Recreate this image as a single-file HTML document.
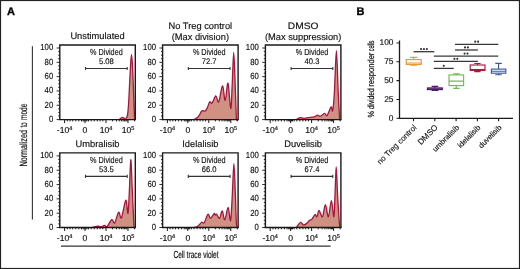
<!DOCTYPE html>
<html><head><meta charset="utf-8"><style>html,body{margin:0;padding:0;background:#fff;}body{width:520px;height:269px;overflow:hidden;position:relative;font-family:"Liberation Sans",sans-serif;}text:not([stroke]){stroke:#111;stroke-width:0.15px;}</style></head><body>
<svg width="520" height="269" viewBox="0 0 520 269" style="position:absolute;left:0;top:0;will-change:transform" text-rendering="geometricPrecision" font-family="&quot;Liberation Sans&quot;, sans-serif" fill="#111">
<rect x="0" y="0" width="520" height="269" fill="#fff"/>
<text x="6.9" y="15" font-size="11" font-weight="bold" fill="#000" stroke="#000" stroke-width="0.35">A</text>
<text x="356.6" y="15" font-size="11" font-weight="bold" fill="#000" stroke="#000" stroke-width="0.35">B</text>
<path d="M119.30,119.60 C119.83,119.22 121.48,117.40 122.50,117.30 C123.52,117.20 124.58,119.30 125.40,119.00 C126.22,118.70 126.88,117.83 127.40,115.50 C127.92,113.17 128.17,109.58 128.50,105.00 C128.83,100.42 129.07,94.50 129.40,88.00 C129.73,81.50 130.15,71.62 130.50,66.00 C130.85,60.38 131.17,54.30 131.50,54.30 C131.83,54.30 132.18,60.38 132.50,66.00 C132.82,71.62 133.15,81.50 133.40,88.00 C133.65,94.50 133.82,100.17 134.00,105.00 C134.18,109.83 134.37,114.57 134.50,117.00 C134.63,119.43 134.75,119.17 134.80,119.60 Z" fill="#cf9282" stroke="none"/>
<path d="M119.30,119.60 C119.83,119.22 121.48,117.40 122.50,117.30 C123.52,117.20 124.58,119.30 125.40,119.00 C126.22,118.70 126.88,117.83 127.40,115.50 C127.92,113.17 128.17,109.58 128.50,105.00 C128.83,100.42 129.07,94.50 129.40,88.00 C129.73,81.50 130.15,71.62 130.50,66.00 C130.85,60.38 131.17,54.30 131.50,54.30 C131.83,54.30 132.18,60.38 132.50,66.00 C132.82,71.62 133.15,81.50 133.40,88.00 C133.65,94.50 133.82,100.17 134.00,105.00 C134.18,109.83 134.37,114.57 134.50,117.00 C134.63,119.43 134.75,119.17 134.80,119.60" fill="none" stroke="#a8153d" stroke-width="1.3" stroke-linejoin="round"/>
<path d="M59.80,119.60 V45.00 H135.30 V119.60" fill="none" stroke="#1a1a1a" stroke-width="1.4"/>
<path d="M59.10,119.60 H136.00" fill="none" stroke="#1a1a1a" stroke-width="1.35"/>
<path d="M56.60,119.60 H59.80 M58.20,116.02 H59.80 M58.20,112.44 H59.80 M58.20,108.86 H59.80 M56.60,105.28 H59.80 M58.20,101.70 H59.80 M58.20,98.12 H59.80 M58.20,94.54 H59.80 M56.60,90.96 H59.80 M58.20,87.38 H59.80 M58.20,83.80 H59.80 M58.20,80.22 H59.80 M56.60,76.64 H59.80 M58.20,73.06 H59.80 M58.20,69.48 H59.80 M58.20,65.90 H59.80 M56.60,62.32 H59.80 M58.20,58.74 H59.80 M58.20,55.16 H59.80 M58.20,51.58 H59.80 M56.60,48.00 H59.80" stroke="#1a1a1a" stroke-width="0.9" fill="none"/>
<text transform="translate(53.20,122.00) scale(0.88,1)" text-anchor="end" font-size="8.8">0</text>
<text transform="translate(53.20,107.68) scale(0.88,1)" text-anchor="end" font-size="8.8">20</text>
<text transform="translate(53.20,93.36) scale(0.88,1)" text-anchor="end" font-size="8.8">40</text>
<text transform="translate(53.20,79.04) scale(0.88,1)" text-anchor="end" font-size="8.8">60</text>
<text transform="translate(53.20,64.72) scale(0.88,1)" text-anchor="end" font-size="8.8">80</text>
<text transform="translate(53.20,50.40) scale(0.88,1)" text-anchor="end" font-size="8.8">100</text>
<path d="M64.60,119.60 V123.10 M85.00,119.60 V123.10 M106.00,119.60 V123.10 M128.00,119.60 V123.10 M67.30,119.60 V121.40 M70.00,119.60 V121.40 M72.70,119.60 V121.40 M75.80,119.60 V121.40 M78.80,119.60 V121.40 M81.50,119.60 V121.40 M83.10,119.60 V121.40 M84.10,119.60 V121.40 M85.90,119.60 V121.40 M86.90,119.60 V121.40 M88.50,119.60 V121.40 M91.20,119.60 V121.40 M94.20,119.60 V121.40 M97.30,119.60 V121.40 M100.10,119.60 V121.40 M102.80,119.60 V121.40 M112.62,119.60 V121.40 M116.50,119.60 V121.40 M119.25,119.60 V121.40 M121.38,119.60 V121.40 M123.12,119.60 V121.40 M124.59,119.60 V121.40 M125.87,119.60 V121.40 M126.99,119.60 V121.40 M134.60,119.60 V121.40" stroke="#111" stroke-width="0.95" fill="none"/>
<text x="64.60" y="132.70" text-anchor="middle" font-size="8.6">-10<tspan font-size="5.6" dy="-2.6">4</tspan></text>
<text x="85.00" y="132.70" text-anchor="middle" font-size="8.6">0</text>
<text x="106.00" y="132.70" text-anchor="middle" font-size="8.6">10<tspan font-size="5.6" dy="-2.6">4</tspan></text>
<text x="128.00" y="132.70" text-anchor="middle" font-size="8.6">10<tspan font-size="5.6" dy="-2.6">5</tspan></text>
<text x="97.55" y="39.40" text-anchor="middle" font-size="9.3">Unstimulated</text>
<text x="106.40" y="54.90" text-anchor="middle" font-size="8.8" textLength="32.6" lengthAdjust="spacingAndGlyphs">% Divided</text>
<text transform="translate(106.40,63.70) scale(0.94,1)" text-anchor="middle" font-size="8.1">5.08</text>
<path d="M85.10,68.50 H127.60 M85.50,66.90 V70.10 M127.20,66.90 V70.10" stroke="#333" stroke-width="1.1" fill="none"/>
<path d="M194.20,119.60 C194.88,119.13 197.02,118.27 198.30,116.80 C199.58,115.33 200.80,111.73 201.90,110.80 C203.00,109.87 204.00,111.68 204.90,111.20 C205.80,110.72 206.52,109.45 207.30,107.90 C208.08,106.35 208.82,102.70 209.60,101.90 C210.38,101.10 210.97,104.08 212.00,103.10 C213.03,102.12 214.68,96.20 215.80,96.00 C216.92,95.80 217.58,103.57 218.70,101.90 C219.82,100.23 221.42,86.23 222.50,86.00 C223.58,85.77 224.28,100.98 225.20,100.50 C226.12,100.02 227.08,81.75 228.00,83.10 C228.92,84.45 230.00,108.28 230.70,108.60 C231.40,108.92 231.70,94.37 232.20,85.00 C232.70,75.63 233.20,52.40 233.70,52.40 C234.20,52.40 234.77,74.28 235.20,85.00 C235.63,95.72 236.00,110.93 236.30,116.70 C236.60,122.47 236.88,119.12 237.00,119.60 Z" fill="#cf9282" stroke="none"/>
<path d="M194.20,119.60 C194.88,119.13 197.02,118.27 198.30,116.80 C199.58,115.33 200.80,111.73 201.90,110.80 C203.00,109.87 204.00,111.68 204.90,111.20 C205.80,110.72 206.52,109.45 207.30,107.90 C208.08,106.35 208.82,102.70 209.60,101.90 C210.38,101.10 210.97,104.08 212.00,103.10 C213.03,102.12 214.68,96.20 215.80,96.00 C216.92,95.80 217.58,103.57 218.70,101.90 C219.82,100.23 221.42,86.23 222.50,86.00 C223.58,85.77 224.28,100.98 225.20,100.50 C226.12,100.02 227.08,81.75 228.00,83.10 C228.92,84.45 230.00,108.28 230.70,108.60 C231.40,108.92 231.70,94.37 232.20,85.00 C232.70,75.63 233.20,52.40 233.70,52.40 C234.20,52.40 234.77,74.28 235.20,85.00 C235.63,95.72 236.00,110.93 236.30,116.70 C236.60,122.47 236.88,119.12 237.00,119.60" fill="none" stroke="#a8153d" stroke-width="1.3" stroke-linejoin="round"/>
<path d="M162.60,119.60 V45.00 H238.10 V119.60" fill="none" stroke="#1a1a1a" stroke-width="1.4"/>
<path d="M161.90,119.60 H238.80" fill="none" stroke="#1a1a1a" stroke-width="1.35"/>
<path d="M159.40,119.60 H162.60 M161.00,116.02 H162.60 M161.00,112.44 H162.60 M161.00,108.86 H162.60 M159.40,105.28 H162.60 M161.00,101.70 H162.60 M161.00,98.12 H162.60 M161.00,94.54 H162.60 M159.40,90.96 H162.60 M161.00,87.38 H162.60 M161.00,83.80 H162.60 M161.00,80.22 H162.60 M159.40,76.64 H162.60 M161.00,73.06 H162.60 M161.00,69.48 H162.60 M161.00,65.90 H162.60 M159.40,62.32 H162.60 M161.00,58.74 H162.60 M161.00,55.16 H162.60 M161.00,51.58 H162.60 M159.40,48.00 H162.60" stroke="#1a1a1a" stroke-width="0.9" fill="none"/>
<text transform="translate(156.00,122.00) scale(0.88,1)" text-anchor="end" font-size="8.8">0</text>
<text transform="translate(156.00,107.68) scale(0.88,1)" text-anchor="end" font-size="8.8">20</text>
<text transform="translate(156.00,93.36) scale(0.88,1)" text-anchor="end" font-size="8.8">40</text>
<text transform="translate(156.00,79.04) scale(0.88,1)" text-anchor="end" font-size="8.8">60</text>
<text transform="translate(156.00,64.72) scale(0.88,1)" text-anchor="end" font-size="8.8">80</text>
<text transform="translate(156.00,50.40) scale(0.88,1)" text-anchor="end" font-size="8.8">100</text>
<path d="M167.40,119.60 V123.10 M187.80,119.60 V123.10 M208.80,119.60 V123.10 M230.80,119.60 V123.10 M170.10,119.60 V121.40 M172.80,119.60 V121.40 M175.50,119.60 V121.40 M178.60,119.60 V121.40 M181.60,119.60 V121.40 M184.30,119.60 V121.40 M185.90,119.60 V121.40 M186.90,119.60 V121.40 M188.70,119.60 V121.40 M189.70,119.60 V121.40 M191.30,119.60 V121.40 M194.00,119.60 V121.40 M197.00,119.60 V121.40 M200.10,119.60 V121.40 M202.90,119.60 V121.40 M205.60,119.60 V121.40 M215.42,119.60 V121.40 M219.30,119.60 V121.40 M222.05,119.60 V121.40 M224.18,119.60 V121.40 M225.92,119.60 V121.40 M227.39,119.60 V121.40 M228.67,119.60 V121.40 M229.79,119.60 V121.40 M237.40,119.60 V121.40" stroke="#111" stroke-width="0.95" fill="none"/>
<text x="167.40" y="132.70" text-anchor="middle" font-size="8.6">-10<tspan font-size="5.6" dy="-2.6">4</tspan></text>
<text x="187.80" y="132.70" text-anchor="middle" font-size="8.6">0</text>
<text x="208.80" y="132.70" text-anchor="middle" font-size="8.6">10<tspan font-size="5.6" dy="-2.6">4</tspan></text>
<text x="230.80" y="132.70" text-anchor="middle" font-size="8.6">10<tspan font-size="5.6" dy="-2.6">5</tspan></text>
<text x="200.35" y="29.10" text-anchor="middle" font-size="9.3">No Treg control</text>
<text x="200.35" y="40.30" text-anchor="middle" font-size="9.3">(Max division)</text>
<text x="209.20" y="54.90" text-anchor="middle" font-size="8.8" textLength="32.6" lengthAdjust="spacingAndGlyphs">% Divided</text>
<text transform="translate(209.20,63.70) scale(0.94,1)" text-anchor="middle" font-size="8.1">72.7</text>
<path d="M187.90,68.50 H230.40 M188.30,66.90 V70.10 M230.00,66.90 V70.10" stroke="#333" stroke-width="1.1" fill="none"/>
<path d="M296.50,119.60 C297.08,119.27 298.75,117.82 300.00,117.60 C301.25,117.38 302.32,118.35 304.00,118.30 C305.68,118.25 308.42,117.53 310.10,117.30 C311.78,117.07 312.85,117.27 314.10,116.90 C315.35,116.53 316.60,115.20 317.60,115.10 C318.60,115.00 318.93,116.58 320.10,116.30 C321.27,116.02 323.43,113.52 324.60,113.40 C325.77,113.28 326.03,116.67 327.10,115.60 C328.17,114.53 330.07,107.83 331.00,107.00 C331.93,106.17 332.13,113.10 332.70,110.60 C333.27,108.10 333.78,101.98 334.40,92.00 C335.02,82.02 335.77,50.70 336.40,50.70 C337.03,50.70 337.68,80.95 338.20,92.00 C338.72,103.05 339.20,112.40 339.50,117.00 C339.80,121.60 339.92,119.17 340.00,119.60 Z" fill="#cf9282" stroke="none"/>
<path d="M296.50,119.60 C297.08,119.27 298.75,117.82 300.00,117.60 C301.25,117.38 302.32,118.35 304.00,118.30 C305.68,118.25 308.42,117.53 310.10,117.30 C311.78,117.07 312.85,117.27 314.10,116.90 C315.35,116.53 316.60,115.20 317.60,115.10 C318.60,115.00 318.93,116.58 320.10,116.30 C321.27,116.02 323.43,113.52 324.60,113.40 C325.77,113.28 326.03,116.67 327.10,115.60 C328.17,114.53 330.07,107.83 331.00,107.00 C331.93,106.17 332.13,113.10 332.70,110.60 C333.27,108.10 333.78,101.98 334.40,92.00 C335.02,82.02 335.77,50.70 336.40,50.70 C337.03,50.70 337.68,80.95 338.20,92.00 C338.72,103.05 339.20,112.40 339.50,117.00 C339.80,121.60 339.92,119.17 340.00,119.60" fill="none" stroke="#a8153d" stroke-width="1.3" stroke-linejoin="round"/>
<path d="M265.40,119.60 V45.00 H340.90 V119.60" fill="none" stroke="#1a1a1a" stroke-width="1.4"/>
<path d="M264.70,119.60 H341.60" fill="none" stroke="#1a1a1a" stroke-width="1.35"/>
<path d="M262.20,119.60 H265.40 M263.80,116.02 H265.40 M263.80,112.44 H265.40 M263.80,108.86 H265.40 M262.20,105.28 H265.40 M263.80,101.70 H265.40 M263.80,98.12 H265.40 M263.80,94.54 H265.40 M262.20,90.96 H265.40 M263.80,87.38 H265.40 M263.80,83.80 H265.40 M263.80,80.22 H265.40 M262.20,76.64 H265.40 M263.80,73.06 H265.40 M263.80,69.48 H265.40 M263.80,65.90 H265.40 M262.20,62.32 H265.40 M263.80,58.74 H265.40 M263.80,55.16 H265.40 M263.80,51.58 H265.40 M262.20,48.00 H265.40" stroke="#1a1a1a" stroke-width="0.9" fill="none"/>
<text transform="translate(258.80,122.00) scale(0.88,1)" text-anchor="end" font-size="8.8">0</text>
<text transform="translate(258.80,107.68) scale(0.88,1)" text-anchor="end" font-size="8.8">20</text>
<text transform="translate(258.80,93.36) scale(0.88,1)" text-anchor="end" font-size="8.8">40</text>
<text transform="translate(258.80,79.04) scale(0.88,1)" text-anchor="end" font-size="8.8">60</text>
<text transform="translate(258.80,64.72) scale(0.88,1)" text-anchor="end" font-size="8.8">80</text>
<text transform="translate(258.80,50.40) scale(0.88,1)" text-anchor="end" font-size="8.8">100</text>
<path d="M270.20,119.60 V123.10 M290.60,119.60 V123.10 M311.60,119.60 V123.10 M333.60,119.60 V123.10 M272.90,119.60 V121.40 M275.60,119.60 V121.40 M278.30,119.60 V121.40 M281.40,119.60 V121.40 M284.40,119.60 V121.40 M287.10,119.60 V121.40 M288.70,119.60 V121.40 M289.70,119.60 V121.40 M291.50,119.60 V121.40 M292.50,119.60 V121.40 M294.10,119.60 V121.40 M296.80,119.60 V121.40 M299.80,119.60 V121.40 M302.90,119.60 V121.40 M305.70,119.60 V121.40 M308.40,119.60 V121.40 M318.22,119.60 V121.40 M322.10,119.60 V121.40 M324.85,119.60 V121.40 M326.98,119.60 V121.40 M328.72,119.60 V121.40 M330.19,119.60 V121.40 M331.47,119.60 V121.40 M332.59,119.60 V121.40 M340.20,119.60 V121.40" stroke="#111" stroke-width="0.95" fill="none"/>
<text x="270.20" y="132.70" text-anchor="middle" font-size="8.6">-10<tspan font-size="5.6" dy="-2.6">4</tspan></text>
<text x="290.60" y="132.70" text-anchor="middle" font-size="8.6">0</text>
<text x="311.60" y="132.70" text-anchor="middle" font-size="8.6">10<tspan font-size="5.6" dy="-2.6">4</tspan></text>
<text x="333.60" y="132.70" text-anchor="middle" font-size="8.6">10<tspan font-size="5.6" dy="-2.6">5</tspan></text>
<text x="303.15" y="29.10" text-anchor="middle" font-size="9.3" textLength="30.6" lengthAdjust="spacingAndGlyphs">DMSO</text>
<text x="303.15" y="40.30" text-anchor="middle" font-size="9.3">(Max suppression)</text>
<text x="312.00" y="54.90" text-anchor="middle" font-size="8.8" textLength="32.6" lengthAdjust="spacingAndGlyphs">% Divided</text>
<text transform="translate(312.00,63.70) scale(0.94,1)" text-anchor="middle" font-size="8.1">40.3</text>
<path d="M290.70,68.50 H333.20 M291.10,66.90 V70.10 M332.80,66.90 V70.10" stroke="#333" stroke-width="1.1" fill="none"/>
<path d="M92.20,227.50 C93.17,227.29 96.48,226.35 98.00,226.25 C99.52,226.15 100.22,227.06 101.30,226.90 C102.38,226.74 103.53,225.35 104.50,225.30 C105.47,225.25 105.90,227.53 107.10,226.60 C108.30,225.67 110.43,220.30 111.70,219.70 C112.97,219.10 113.55,224.23 114.70,223.00 C115.85,221.77 117.47,213.17 118.60,212.30 C119.73,211.43 120.31,219.82 121.50,217.80 C122.69,215.78 124.67,200.97 125.75,200.20 C126.83,199.43 127.39,214.90 128.00,213.20 C128.61,211.50 128.93,198.92 129.40,190.00 C129.87,181.08 130.33,160.03 130.80,159.70 C131.27,159.37 131.78,179.28 132.20,188.00 C132.62,196.72 133.00,205.42 133.30,212.00 C133.60,218.58 133.88,224.92 134.00,227.50 Z" fill="#cf9282" stroke="none"/>
<path d="M92.20,227.50 C93.17,227.29 96.48,226.35 98.00,226.25 C99.52,226.15 100.22,227.06 101.30,226.90 C102.38,226.74 103.53,225.35 104.50,225.30 C105.47,225.25 105.90,227.53 107.10,226.60 C108.30,225.67 110.43,220.30 111.70,219.70 C112.97,219.10 113.55,224.23 114.70,223.00 C115.85,221.77 117.47,213.17 118.60,212.30 C119.73,211.43 120.31,219.82 121.50,217.80 C122.69,215.78 124.67,200.97 125.75,200.20 C126.83,199.43 127.39,214.90 128.00,213.20 C128.61,211.50 128.93,198.92 129.40,190.00 C129.87,181.08 130.33,160.03 130.80,159.70 C131.27,159.37 131.78,179.28 132.20,188.00 C132.62,196.72 133.00,205.42 133.30,212.00 C133.60,218.58 133.88,224.92 134.00,227.50" fill="none" stroke="#a8153d" stroke-width="1.3" stroke-linejoin="round"/>
<path d="M59.80,227.50 V152.90 H135.30 V227.50" fill="none" stroke="#1a1a1a" stroke-width="1.4"/>
<path d="M59.10,227.50 H136.00" fill="none" stroke="#1a1a1a" stroke-width="1.35"/>
<path d="M56.60,227.50 H59.80 M58.20,223.92 H59.80 M58.20,220.34 H59.80 M58.20,216.76 H59.80 M56.60,213.18 H59.80 M58.20,209.60 H59.80 M58.20,206.02 H59.80 M58.20,202.44 H59.80 M56.60,198.86 H59.80 M58.20,195.28 H59.80 M58.20,191.70 H59.80 M58.20,188.12 H59.80 M56.60,184.54 H59.80 M58.20,180.96 H59.80 M58.20,177.38 H59.80 M58.20,173.80 H59.80 M56.60,170.22 H59.80 M58.20,166.64 H59.80 M58.20,163.06 H59.80 M58.20,159.48 H59.80 M56.60,155.90 H59.80" stroke="#1a1a1a" stroke-width="0.9" fill="none"/>
<text transform="translate(53.20,229.90) scale(0.88,1)" text-anchor="end" font-size="8.8">0</text>
<text transform="translate(53.20,215.58) scale(0.88,1)" text-anchor="end" font-size="8.8">20</text>
<text transform="translate(53.20,201.26) scale(0.88,1)" text-anchor="end" font-size="8.8">40</text>
<text transform="translate(53.20,186.94) scale(0.88,1)" text-anchor="end" font-size="8.8">60</text>
<text transform="translate(53.20,172.62) scale(0.88,1)" text-anchor="end" font-size="8.8">80</text>
<text transform="translate(53.20,158.30) scale(0.88,1)" text-anchor="end" font-size="8.8">100</text>
<path d="M64.60,227.50 V231.00 M85.00,227.50 V231.00 M106.00,227.50 V231.00 M128.00,227.50 V231.00 M67.30,227.50 V229.30 M70.00,227.50 V229.30 M72.70,227.50 V229.30 M75.80,227.50 V229.30 M78.80,227.50 V229.30 M81.50,227.50 V229.30 M83.10,227.50 V229.30 M84.10,227.50 V229.30 M85.90,227.50 V229.30 M86.90,227.50 V229.30 M88.50,227.50 V229.30 M91.20,227.50 V229.30 M94.20,227.50 V229.30 M97.30,227.50 V229.30 M100.10,227.50 V229.30 M102.80,227.50 V229.30 M112.62,227.50 V229.30 M116.50,227.50 V229.30 M119.25,227.50 V229.30 M121.38,227.50 V229.30 M123.12,227.50 V229.30 M124.59,227.50 V229.30 M125.87,227.50 V229.30 M126.99,227.50 V229.30 M134.60,227.50 V229.30" stroke="#111" stroke-width="0.95" fill="none"/>
<text x="64.60" y="240.60" text-anchor="middle" font-size="8.6">-10<tspan font-size="5.6" dy="-2.6">4</tspan></text>
<text x="85.00" y="240.60" text-anchor="middle" font-size="8.6">0</text>
<text x="106.00" y="240.60" text-anchor="middle" font-size="8.6">10<tspan font-size="5.6" dy="-2.6">4</tspan></text>
<text x="128.00" y="240.60" text-anchor="middle" font-size="8.6">10<tspan font-size="5.6" dy="-2.6">5</tspan></text>
<text x="97.55" y="147.30" text-anchor="middle" font-size="9.3">Umbralisib</text>
<text x="106.40" y="162.80" text-anchor="middle" font-size="8.8" textLength="32.6" lengthAdjust="spacingAndGlyphs">% Divided</text>
<text transform="translate(106.40,171.60) scale(0.94,1)" text-anchor="middle" font-size="8.1">53.5</text>
<path d="M85.10,176.40 H127.60 M85.50,174.80 V178.00 M127.20,174.80 V178.00" stroke="#333" stroke-width="1.1" fill="none"/>
<path d="M193.90,227.50 C194.55,227.28 196.50,227.07 197.80,226.20 C199.10,225.33 200.62,222.90 201.70,222.30 C202.78,221.70 203.27,223.95 204.30,222.60 C205.33,221.25 206.87,214.90 207.90,214.20 C208.93,213.50 209.47,218.50 210.50,218.40 C211.53,218.30 213.28,214.13 214.10,213.60 C214.92,213.07 214.97,215.10 215.40,215.20 C215.83,215.30 216.00,213.67 216.70,214.20 C217.40,214.73 218.68,218.93 219.60,218.40 C220.52,217.87 221.33,210.77 222.20,211.00 C223.07,211.23 223.82,220.40 224.80,219.80 C225.78,219.20 227.13,207.27 228.10,207.40 C229.07,207.53 229.90,222.67 230.60,220.60 C231.30,218.53 231.75,204.48 232.30,195.00 C232.85,185.52 233.38,163.70 233.90,163.70 C234.42,163.70 235.00,185.28 235.40,195.00 C235.80,204.72 236.03,216.58 236.30,222.00 C236.57,227.42 236.88,226.58 237.00,227.50 Z" fill="#cf9282" stroke="none"/>
<path d="M193.90,227.50 C194.55,227.28 196.50,227.07 197.80,226.20 C199.10,225.33 200.62,222.90 201.70,222.30 C202.78,221.70 203.27,223.95 204.30,222.60 C205.33,221.25 206.87,214.90 207.90,214.20 C208.93,213.50 209.47,218.50 210.50,218.40 C211.53,218.30 213.28,214.13 214.10,213.60 C214.92,213.07 214.97,215.10 215.40,215.20 C215.83,215.30 216.00,213.67 216.70,214.20 C217.40,214.73 218.68,218.93 219.60,218.40 C220.52,217.87 221.33,210.77 222.20,211.00 C223.07,211.23 223.82,220.40 224.80,219.80 C225.78,219.20 227.13,207.27 228.10,207.40 C229.07,207.53 229.90,222.67 230.60,220.60 C231.30,218.53 231.75,204.48 232.30,195.00 C232.85,185.52 233.38,163.70 233.90,163.70 C234.42,163.70 235.00,185.28 235.40,195.00 C235.80,204.72 236.03,216.58 236.30,222.00 C236.57,227.42 236.88,226.58 237.00,227.50" fill="none" stroke="#a8153d" stroke-width="1.3" stroke-linejoin="round"/>
<path d="M162.60,227.50 V152.90 H238.10 V227.50" fill="none" stroke="#1a1a1a" stroke-width="1.4"/>
<path d="M161.90,227.50 H238.80" fill="none" stroke="#1a1a1a" stroke-width="1.35"/>
<path d="M159.40,227.50 H162.60 M161.00,223.92 H162.60 M161.00,220.34 H162.60 M161.00,216.76 H162.60 M159.40,213.18 H162.60 M161.00,209.60 H162.60 M161.00,206.02 H162.60 M161.00,202.44 H162.60 M159.40,198.86 H162.60 M161.00,195.28 H162.60 M161.00,191.70 H162.60 M161.00,188.12 H162.60 M159.40,184.54 H162.60 M161.00,180.96 H162.60 M161.00,177.38 H162.60 M161.00,173.80 H162.60 M159.40,170.22 H162.60 M161.00,166.64 H162.60 M161.00,163.06 H162.60 M161.00,159.48 H162.60 M159.40,155.90 H162.60" stroke="#1a1a1a" stroke-width="0.9" fill="none"/>
<text transform="translate(156.00,229.90) scale(0.88,1)" text-anchor="end" font-size="8.8">0</text>
<text transform="translate(156.00,215.58) scale(0.88,1)" text-anchor="end" font-size="8.8">20</text>
<text transform="translate(156.00,201.26) scale(0.88,1)" text-anchor="end" font-size="8.8">40</text>
<text transform="translate(156.00,186.94) scale(0.88,1)" text-anchor="end" font-size="8.8">60</text>
<text transform="translate(156.00,172.62) scale(0.88,1)" text-anchor="end" font-size="8.8">80</text>
<text transform="translate(156.00,158.30) scale(0.88,1)" text-anchor="end" font-size="8.8">100</text>
<path d="M167.40,227.50 V231.00 M187.80,227.50 V231.00 M208.80,227.50 V231.00 M230.80,227.50 V231.00 M170.10,227.50 V229.30 M172.80,227.50 V229.30 M175.50,227.50 V229.30 M178.60,227.50 V229.30 M181.60,227.50 V229.30 M184.30,227.50 V229.30 M185.90,227.50 V229.30 M186.90,227.50 V229.30 M188.70,227.50 V229.30 M189.70,227.50 V229.30 M191.30,227.50 V229.30 M194.00,227.50 V229.30 M197.00,227.50 V229.30 M200.10,227.50 V229.30 M202.90,227.50 V229.30 M205.60,227.50 V229.30 M215.42,227.50 V229.30 M219.30,227.50 V229.30 M222.05,227.50 V229.30 M224.18,227.50 V229.30 M225.92,227.50 V229.30 M227.39,227.50 V229.30 M228.67,227.50 V229.30 M229.79,227.50 V229.30 M237.40,227.50 V229.30" stroke="#111" stroke-width="0.95" fill="none"/>
<text x="167.40" y="240.60" text-anchor="middle" font-size="8.6">-10<tspan font-size="5.6" dy="-2.6">4</tspan></text>
<text x="187.80" y="240.60" text-anchor="middle" font-size="8.6">0</text>
<text x="208.80" y="240.60" text-anchor="middle" font-size="8.6">10<tspan font-size="5.6" dy="-2.6">4</tspan></text>
<text x="230.80" y="240.60" text-anchor="middle" font-size="8.6">10<tspan font-size="5.6" dy="-2.6">5</tspan></text>
<text x="200.35" y="147.30" text-anchor="middle" font-size="9.3">Idelalisib</text>
<text x="209.20" y="162.80" text-anchor="middle" font-size="8.8" textLength="32.6" lengthAdjust="spacingAndGlyphs">% Divided</text>
<text transform="translate(209.20,171.60) scale(0.94,1)" text-anchor="middle" font-size="8.1">66.0</text>
<path d="M187.90,176.40 H230.40 M188.30,174.80 V178.00 M230.00,174.80 V178.00" stroke="#333" stroke-width="1.1" fill="none"/>
<path d="M296.20,227.50 C296.93,226.65 299.45,222.83 300.60,222.40 C301.75,221.97 302.18,224.65 303.10,224.90 C304.02,225.15 305.03,224.63 306.10,223.90 C307.17,223.17 308.50,221.32 309.50,220.50 C310.50,219.68 311.18,220.00 312.10,219.00 C313.02,218.00 314.18,214.88 315.00,214.50 C315.82,214.12 316.33,217.37 317.00,216.70 C317.67,216.03 318.08,210.50 319.00,210.50 C319.92,210.50 321.43,217.68 322.50,216.70 C323.57,215.72 324.42,204.60 325.40,204.60 C326.38,204.60 327.40,217.35 328.40,216.70 C329.40,216.05 330.48,200.70 331.40,200.70 C332.32,200.70 333.30,217.65 333.90,216.70 C334.50,215.75 334.62,203.28 335.00,195.00 C335.38,186.72 335.77,167.00 336.20,167.00 C336.63,167.00 337.10,185.97 337.60,195.00 C338.10,204.03 338.80,215.78 339.20,221.20 C339.60,226.62 339.87,226.45 340.00,227.50 Z" fill="#cf9282" stroke="none"/>
<path d="M296.20,227.50 C296.93,226.65 299.45,222.83 300.60,222.40 C301.75,221.97 302.18,224.65 303.10,224.90 C304.02,225.15 305.03,224.63 306.10,223.90 C307.17,223.17 308.50,221.32 309.50,220.50 C310.50,219.68 311.18,220.00 312.10,219.00 C313.02,218.00 314.18,214.88 315.00,214.50 C315.82,214.12 316.33,217.37 317.00,216.70 C317.67,216.03 318.08,210.50 319.00,210.50 C319.92,210.50 321.43,217.68 322.50,216.70 C323.57,215.72 324.42,204.60 325.40,204.60 C326.38,204.60 327.40,217.35 328.40,216.70 C329.40,216.05 330.48,200.70 331.40,200.70 C332.32,200.70 333.30,217.65 333.90,216.70 C334.50,215.75 334.62,203.28 335.00,195.00 C335.38,186.72 335.77,167.00 336.20,167.00 C336.63,167.00 337.10,185.97 337.60,195.00 C338.10,204.03 338.80,215.78 339.20,221.20 C339.60,226.62 339.87,226.45 340.00,227.50" fill="none" stroke="#a8153d" stroke-width="1.3" stroke-linejoin="round"/>
<path d="M265.40,227.50 V152.90 H340.90 V227.50" fill="none" stroke="#1a1a1a" stroke-width="1.4"/>
<path d="M264.70,227.50 H341.60" fill="none" stroke="#1a1a1a" stroke-width="1.35"/>
<path d="M262.20,227.50 H265.40 M263.80,223.92 H265.40 M263.80,220.34 H265.40 M263.80,216.76 H265.40 M262.20,213.18 H265.40 M263.80,209.60 H265.40 M263.80,206.02 H265.40 M263.80,202.44 H265.40 M262.20,198.86 H265.40 M263.80,195.28 H265.40 M263.80,191.70 H265.40 M263.80,188.12 H265.40 M262.20,184.54 H265.40 M263.80,180.96 H265.40 M263.80,177.38 H265.40 M263.80,173.80 H265.40 M262.20,170.22 H265.40 M263.80,166.64 H265.40 M263.80,163.06 H265.40 M263.80,159.48 H265.40 M262.20,155.90 H265.40" stroke="#1a1a1a" stroke-width="0.9" fill="none"/>
<text transform="translate(258.80,229.90) scale(0.88,1)" text-anchor="end" font-size="8.8">0</text>
<text transform="translate(258.80,215.58) scale(0.88,1)" text-anchor="end" font-size="8.8">20</text>
<text transform="translate(258.80,201.26) scale(0.88,1)" text-anchor="end" font-size="8.8">40</text>
<text transform="translate(258.80,186.94) scale(0.88,1)" text-anchor="end" font-size="8.8">60</text>
<text transform="translate(258.80,172.62) scale(0.88,1)" text-anchor="end" font-size="8.8">80</text>
<text transform="translate(258.80,158.30) scale(0.88,1)" text-anchor="end" font-size="8.8">100</text>
<path d="M270.20,227.50 V231.00 M290.60,227.50 V231.00 M311.60,227.50 V231.00 M333.60,227.50 V231.00 M272.90,227.50 V229.30 M275.60,227.50 V229.30 M278.30,227.50 V229.30 M281.40,227.50 V229.30 M284.40,227.50 V229.30 M287.10,227.50 V229.30 M288.70,227.50 V229.30 M289.70,227.50 V229.30 M291.50,227.50 V229.30 M292.50,227.50 V229.30 M294.10,227.50 V229.30 M296.80,227.50 V229.30 M299.80,227.50 V229.30 M302.90,227.50 V229.30 M305.70,227.50 V229.30 M308.40,227.50 V229.30 M318.22,227.50 V229.30 M322.10,227.50 V229.30 M324.85,227.50 V229.30 M326.98,227.50 V229.30 M328.72,227.50 V229.30 M330.19,227.50 V229.30 M331.47,227.50 V229.30 M332.59,227.50 V229.30 M340.20,227.50 V229.30" stroke="#111" stroke-width="0.95" fill="none"/>
<text x="270.20" y="240.60" text-anchor="middle" font-size="8.6">-10<tspan font-size="5.6" dy="-2.6">4</tspan></text>
<text x="290.60" y="240.60" text-anchor="middle" font-size="8.6">0</text>
<text x="311.60" y="240.60" text-anchor="middle" font-size="8.6">10<tspan font-size="5.6" dy="-2.6">4</tspan></text>
<text x="333.60" y="240.60" text-anchor="middle" font-size="8.6">10<tspan font-size="5.6" dy="-2.6">5</tspan></text>
<text x="303.15" y="147.30" text-anchor="middle" font-size="9.3">Duvelisib</text>
<text x="312.00" y="162.80" text-anchor="middle" font-size="8.8" textLength="32.6" lengthAdjust="spacingAndGlyphs">% Divided</text>
<text transform="translate(312.00,171.60) scale(0.94,1)" text-anchor="middle" font-size="8.1">67.4</text>
<path d="M290.70,176.40 H333.20 M291.10,174.80 V178.00 M332.80,174.80 V178.00" stroke="#333" stroke-width="1.1" fill="none"/>
<path d="M32.4,46.2 V219.4" stroke="#333" stroke-width="1.1"/>
<text transform="translate(27.2,166.60) rotate(-90)" font-size="10.4" stroke="#1a1a1a" stroke-width="0.2" textLength="36.60" lengthAdjust="spacingAndGlyphs">Normalized</text>
<text transform="translate(27.2,127.30) rotate(-90)" font-size="10.4" stroke="#1a1a1a" stroke-width="0.2" textLength="5.00" lengthAdjust="spacingAndGlyphs">to</text>
<text transform="translate(27.2,120.00) rotate(-90)" font-size="10.4" stroke="#1a1a1a" stroke-width="0.2" textLength="16.40" lengthAdjust="spacingAndGlyphs">mode</text>
<path d="M61,246.2 H330.6" stroke="#333" stroke-width="1.2"/>
<text x="196" y="257.5" text-anchor="middle" font-size="10.2" stroke="#1a1a1a" stroke-width="0.2" textLength="45.2" lengthAdjust="spacingAndGlyphs">Cell trace violet</text>
<path d="M399.50,40.5 V118.30 H513.00" fill="none" stroke="#1a1a1a" stroke-width="1.3"/>
<path d="M396.50,118.30 H399.50 M396.50,99.47 H399.50 M396.50,80.65 H399.50 M396.50,61.82 H399.50 M396.50,43.00 H399.50 M413.50,118.30 V121.20 M434.80,118.30 V121.20 M456.10,118.30 V121.20 M477.40,118.30 V121.20 M498.60,118.30 V121.20" stroke="#1a1a1a" stroke-width="1.1" fill="none"/>
<text x="393.50" y="120.60" text-anchor="end" font-size="8.4">0</text>
<text x="393.50" y="101.77" text-anchor="end" font-size="8.4">25</text>
<text x="393.50" y="82.95" text-anchor="end" font-size="8.4">50</text>
<text x="393.50" y="64.12" text-anchor="end" font-size="8.4">75</text>
<text x="393.50" y="45.30" text-anchor="end" font-size="8.4">100</text>
<text transform="translate(373.5,117.50) rotate(-90)" font-size="8.9" stroke="#111" stroke-width="0.2" textLength="6.60" lengthAdjust="spacingAndGlyphs">%</text>
<text transform="translate(373.5,109.00) rotate(-90)" font-size="8.9" stroke="#111" stroke-width="0.2" textLength="20.60" lengthAdjust="spacingAndGlyphs">divided</text>
<text transform="translate(373.5,86.80) rotate(-90)" font-size="8.9" stroke="#111" stroke-width="0.2" textLength="34.20" lengthAdjust="spacingAndGlyphs">responder</text>
<text transform="translate(373.5,51.20) rotate(-90)" font-size="8.9" stroke="#111" stroke-width="0.2" textLength="10.60" lengthAdjust="spacingAndGlyphs">cells</text>
<text transform="translate(417.00,128.00) rotate(-45)" text-anchor="end" font-size="7.8">no Treg control</text>
<text transform="translate(438.30,128.00) rotate(-45)" text-anchor="end" font-size="8.2">DMSO</text>
<text transform="translate(459.60,128.00) rotate(-45)" text-anchor="end" font-size="7.5">umbralisib</text>
<text transform="translate(480.90,128.00) rotate(-45)" text-anchor="end" font-size="7.5">idelalisib</text>
<text transform="translate(502.10,128.00) rotate(-45)" text-anchor="end" font-size="7.5">duvelisib</text>
<g stroke="#e59b2e" stroke-width="1.15" fill="none">
<rect x="406.20" y="59.60" width="15.00" height="4.80" fill="#fff"/>
<path d="M406.20,63.00 H421.20 M413.70,57.40 V59.60 M413.70,64.40 V65.20 M410.20,57.40 H417.00 M410.20,65.20 H417.00"/>
</g>
<g stroke="#4d1a66" stroke-width="1.15" fill="none">
<rect x="427.40" y="87.90" width="14.90" height="1.70" fill="#fff"/>
<path d="M427.40,88.75 H442.30 M434.85,86.40 V87.90 M434.85,89.60 V90.40 M431.60,86.40 H438.30 M431.60,90.40 H438.30"/>
</g>
<g stroke="#72bd4c" stroke-width="1.15" fill="none">
<rect x="449.00" y="74.90" width="14.60" height="10.70" fill="#fff"/>
<path d="M449.00,81.10 H463.60 M456.30,73.80 V74.90 M456.30,85.60 V88.30 M453.20,73.80 H459.60 M453.20,88.30 H459.60"/>
</g>
<g stroke="#b3143c" stroke-width="1.15" fill="none">
<rect x="470.20" y="65.00" width="14.80" height="5.40" fill="#fff"/>
<path d="M470.20,69.60 H485.00 M477.60,63.50 V65.00 M477.60,70.40 V71.60 M474.30,63.50 H480.60 M474.30,71.60 H480.60"/>
</g>
<g stroke="#3d5c98" stroke-width="1.15" fill="none">
<rect x="491.40" y="69.10" width="14.40" height="4.10" fill="#fff"/>
<path d="M491.40,71.20 H505.80 M498.60,63.30 V69.10 M498.60,73.20 V74.70 M495.30,63.30 H501.80 M495.30,74.70 H501.80"/>
</g>
<path d="M413.50,51.70 H434.40" stroke="#383838" stroke-width="1.3"/>
<circle cx="421.05" cy="49.10" r="1.1" fill="#383838"/>
<circle cx="423.95" cy="49.10" r="1.1" fill="#383838"/>
<circle cx="426.85" cy="49.10" r="1.1" fill="#383838"/>
<path d="M455.00,44.30 H498.30" stroke="#383838" stroke-width="1.3"/>
<circle cx="475.20" cy="41.70" r="1.1" fill="#383838"/>
<circle cx="478.10" cy="41.70" r="1.1" fill="#383838"/>
<path d="M455.00,50.00 H477.90" stroke="#383838" stroke-width="1.3"/>
<circle cx="465.00" cy="47.40" r="1.1" fill="#383838"/>
<circle cx="467.90" cy="47.40" r="1.1" fill="#383838"/>
<path d="M433.80,56.20 H498.30" stroke="#383838" stroke-width="1.3"/>
<circle cx="464.60" cy="53.60" r="1.1" fill="#383838"/>
<circle cx="467.50" cy="53.60" r="1.1" fill="#383838"/>
<path d="M433.80,61.40 H477.90" stroke="#383838" stroke-width="1.3"/>
<circle cx="454.40" cy="58.80" r="1.1" fill="#383838"/>
<circle cx="457.30" cy="58.80" r="1.1" fill="#383838"/>
<path d="M433.80,68.40 H453.70" stroke="#383838" stroke-width="1.3"/>
<circle cx="443.75" cy="65.80" r="1.1" fill="#383838"/>
<rect x="0.5" y="0.5" width="519" height="268" fill="none" stroke="#222" stroke-width="1.2"/>
</svg>
</body></html>
